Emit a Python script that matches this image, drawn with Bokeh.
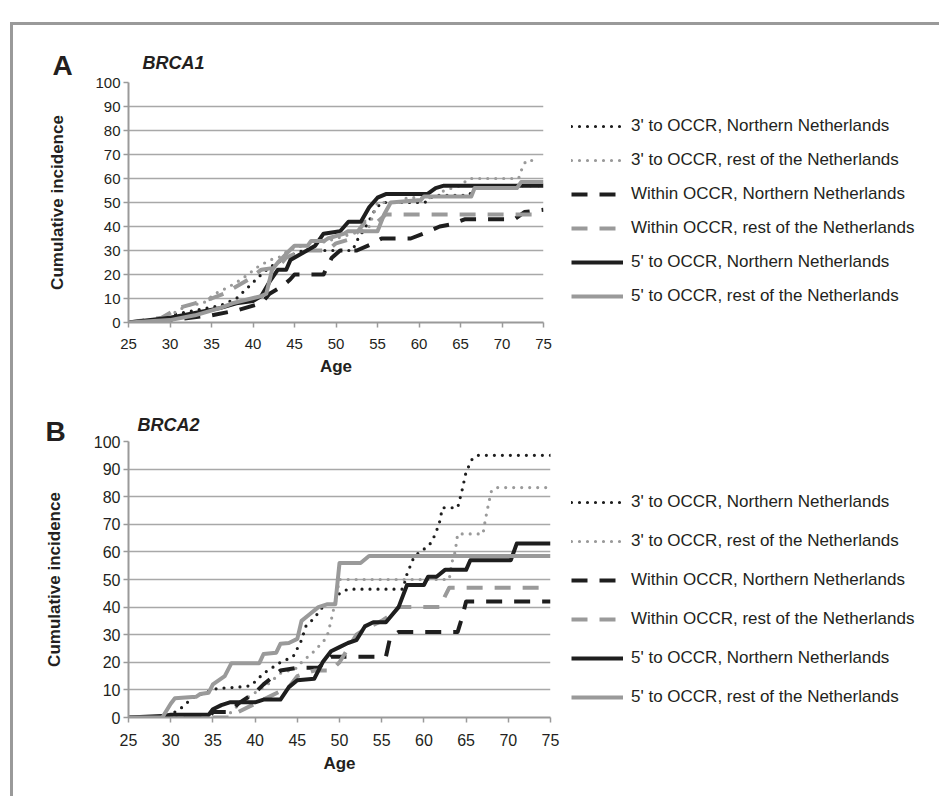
from bokeh.plotting import figure
from bokeh.models import Range1d, FixedTicker, Legend, LegendItem, Label
from bokeh.layouts import column
from bokeh.embed import file_html
from bokeh.resources import INLINE

# ---------------- data ----------------
SERIES_NAMES = [
    "3' to OCCR, Northern Netherlands",
    "3' to OCCR, rest of the Netherlands",
    "Within OCCR, Northern Netherlands",
    "Within OCCR, rest of the Netherlands",
    "5' to OCCR, Northern Netherlands",
    "5' to OCCR, rest of the Netherlands",
]
X_TICKS = [25, 30, 35, 40, 45, 50, 55, 60, 65, 70, 75]
Y_TICKS = [0, 10, 20, 30, 40, 50, 60, 70, 80, 90, 100]

# Panel A: BRCA1
A_3N_age = [25, 28, 30, 33, 36, 38, 39.5, 41, 42, 44, 46, 52, 52.5, 53.6, 54.7, 55.5, 60.7, 61.8, 66, 67, 75]
A_3N_val = [0, 1, 3, 5, 7, 10, 15, 20, 23, 27, 30, 30, 34, 40, 47, 50, 50, 53, 53, 57, 57]
A_3R_age = [25, 28, 30, 32, 34, 35.4, 36.6, 37.4, 38.6, 39.4, 40.5, 42, 43.4, 44.2, 46, 48, 50, 53, 54, 55, 58, 58.5, 62, 63, 65, 66, 72, 72.4, 72.9, 74]
A_3R_val = [0, 1, 3, 7, 8, 12, 14, 15.5, 18, 20, 23, 26, 27.5, 30, 32, 33, 35, 38, 40, 50, 50, 52, 52, 55, 57, 60, 60, 64, 67.5, 67.5]
A_WN_age = [25, 30, 35, 38, 41, 42, 43.5, 44.5, 45, 48.5, 49.5, 50.5, 52.5, 54.5, 55.5, 59, 60.5, 62.5, 64, 65.5, 71.5, 72.7, 75]
A_WN_val = [0, 1, 3, 5, 8, 12, 15, 18, 20, 20, 27, 30, 30, 33, 35, 35, 37, 40, 41, 43, 43, 46, 47]
A_WR_age = [25, 29, 31, 33, 35, 36.5, 38, 39.5, 41, 43, 44, 46, 49, 50, 52, 53.5, 55, 56, 75]
A_WR_val = [0, 2, 6, 8, 10, 12, 15, 18, 22, 23, 27, 30, 30, 33, 35, 42, 42, 45, 45]
A_5N_age = [25, 30, 33, 36, 38, 40, 41, 42, 43, 44, 44.5, 45.5, 46.5, 47.5, 48.5, 50.5, 51.5, 53, 54, 55, 56, 61, 62, 63, 75]
A_5N_val = [0, 2, 4, 6, 8, 9, 11, 17, 22, 22, 26, 28, 30, 32, 37, 38, 42, 42, 48, 52, 53.5, 53.5, 56, 57, 57]
A_5R_age = [25, 30, 33, 36, 37.5, 41, 41.6, 42.3, 43, 44.4, 45, 46.6, 47, 48.6, 49, 51, 51.4, 55, 55.8, 56.6, 60.2, 60.6, 66.3, 66.7, 71.8, 72.3, 75]
A_5R_val = [0, 1, 3, 6, 8, 11, 12, 22, 25, 30, 32, 32, 34, 34, 35, 37, 38, 38, 45, 50, 51, 52.5, 52.5, 56, 56, 58.5, 58.5]

# Panel B: BRCA2
B_3N_age = [25, 29.5, 30, 31.5, 32.5, 34, 35.5, 38, 39.5, 40, 41, 42, 43, 44.5, 45, 45.5, 46, 47, 48, 49.5, 50, 51, 57.5, 58, 58.8, 59.5, 60.5, 61, 61.8, 62.2, 64, 64.5, 65, 65.7, 66.3, 75]
B_3N_val = [0, 0, 1, 4, 7, 9, 10.5, 11, 11.5, 13, 16, 18, 20, 22, 25, 28, 33, 36, 40, 42, 45, 46.5, 46.5, 52, 58, 60, 62, 64, 70, 76, 76, 82, 89, 93.5, 95, 95]
B_3R_age = [25, 36.5, 37.5, 38.5, 40, 41.5, 43, 45, 45.5, 47, 48.5, 49, 49.5, 50, 63, 63.3, 63.7, 64, 67, 67.3, 67.7, 68, 68.5, 75]
B_3R_val = [0, 0, 3, 6, 9, 12, 16, 18, 20, 24, 29, 35, 42, 50, 50, 56, 60, 66.5, 66.5, 72, 78, 82, 83.3, 83.3]
B_WN_age = [25, 34.5, 35, 37, 38, 40, 41, 43, 45, 47.5, 49, 55.5, 56, 57, 64, 64.5, 65, 75]
B_WN_val = [0, 0, 2, 2, 5, 9, 12, 17, 18, 18, 22, 22, 29, 31, 31, 36, 42, 42]
B_WR_age = [25, 37, 38, 40, 42, 44, 45, 47, 49, 50, 51, 52, 53, 55, 56, 57, 62, 62.5, 63, 75]
B_WR_val = [0, 0, 2, 5, 8, 11, 15, 17, 17, 20, 25, 30, 32, 35, 37, 40, 40, 44, 47, 47]
B_5N_age = [25, 29, 30, 34.5, 35, 36, 37, 40, 41, 43, 44, 45, 47, 48, 49, 50, 51, 52, 53, 54, 55.5, 57, 58, 60, 60.5, 61.5, 62.5, 65, 65.5, 70.3, 71, 75]
B_5N_val = [0, 0.5, 1, 1, 3, 4.5, 5.5, 5.5, 6.5, 6.5, 11, 13.5, 14, 20, 24, 25.5, 27, 28, 33, 34.5, 34.5, 40, 48, 48, 51, 51, 53.5, 53.5, 57, 57, 63, 63]
B_5R_age = [25, 29, 30, 30.5, 33, 33.5, 34.5, 35, 36.4, 37.2, 40.5, 41, 42.5, 43, 44, 45, 45.5, 46.5, 47.5, 48.5, 49.5, 50, 52.5, 53.5, 75]
B_5R_val = [0, 0, 5, 7, 7.5, 8.5, 9, 12, 15, 19.7, 19.7, 23, 23.5, 26.7, 27, 28.5, 35, 37.5, 40, 41, 41, 56, 56, 58.5, 58.5]

# ---------------- styles ----------------
BLACK = "#1e1e1e"
GREY = "#9a9a9a"
TXT = "#231f20"
FONT = "Liberation Sans"
STYLES = [
    dict(line_color=BLACK, line_width=3.2, line_dash="0 8", line_cap="round"),
    dict(line_color=GREY, line_width=3.2, line_dash="0 8", line_cap="round"),
    dict(line_color=BLACK, line_width=4, line_dash="16 12", line_cap="butt"),
    dict(line_color=GREY, line_width=4, line_dash="16 12", line_cap="butt"),
    dict(line_color=BLACK, line_width=4, line_dash="solid", line_cap="butt"),
    dict(line_color=GREY, line_width=4, line_dash="solid", line_cap="butt"),
]


def make_panel(series, letter, gene, b_left, b_top, b_bottom, frame_w, frame_h,
               leg_loc, leg_spacing, tick_size, title_standoff,
               letter_off, gene_off):
    p = figure(frame_width=frame_w, frame_height=frame_h, output_backend="svg",
               toolbar_location=None, x_range=Range1d(25, 75),
               y_range=Range1d(0, 100), min_border_left=b_left,
               min_border_top=b_top, min_border_bottom=b_bottom,
               min_border_right=0)
    p.outline_line_color = None
    p.background_fill_color = "white"
    p.border_fill_color = "white"

    p.xaxis.ticker = FixedTicker(ticks=X_TICKS)
    p.yaxis.ticker = FixedTicker(ticks=Y_TICKS)
    for ax in (p.xaxis, p.yaxis):
        ax.axis_line_color = GREY
        ax.axis_line_width = 2
        ax.major_tick_line_color = GREY
        ax.major_tick_line_width = 1.5
        ax.major_tick_out = 5
        ax.major_tick_in = 0
        ax.minor_tick_line_color = None
        ax.major_label_text_font = FONT
        ax.major_label_text_font_size = tick_size
        ax.major_label_text_color = TXT
        ax.axis_label_text_font = FONT
        ax.axis_label_text_font_size = "17px"
        ax.axis_label_text_font_style = "bold"
        ax.axis_label_text_color = TXT
    p.xaxis.axis_label = "Age"
    p.yaxis.axis_label = "Cumulative incidence"
    p.xaxis.major_label_standoff = 11
    p.xaxis.axis_label_standoff = 5
    p.yaxis.major_label_standoff = 3
    p.yaxis.axis_label_standoff = title_standoff

    p.xgrid.grid_line_color = None
    p.ygrid.grid_line_color = "#a8a8a8"
    p.ygrid.grid_line_width = 1.5

    items = []
    for (ages, vals), name, st in zip(series, SERIES_NAMES, STYLES):
        r = p.line(ages, vals, line_join="round", **st)
        items.append(LegendItem(label=name, renderers=[r]))

    leg = Legend(items=items, location=leg_loc, spacing=leg_spacing,
                 padding=0, margin=0, glyph_width=52, glyph_height=20,
                 label_height=20, label_width=310, label_standoff=8,
                 label_text_font=FONT, label_text_font_size="17px",
                 label_text_color=TXT, border_line_color=None,
                 background_fill_alpha=0)
    p.add_layout(leg, "right")

    # panel letter and gene name, in the panel above the frame (not clipped)
    sx = 50.0 / frame_w
    sy = 100.0 / frame_h
    p.add_layout(Label(x=25 + letter_off[0] * sx, y=100 + letter_off[1] * sy,
                       text=letter, text_font=FONT, text_font_style="bold",
                       text_font_size="28px", text_color=TXT,
                       text_baseline="alphabetic"), "above")
    p.add_layout(Label(x=25 + gene_off[0] * sx, y=100 + gene_off[1] * sy,
                       text=gene, text_font=FONT, text_font_style="bold italic",
                       text_font_size="18px", text_color=TXT,
                       text_baseline="alphabetic"), "above")
    return p


series_A = [(A_3N_age, A_3N_val), (A_3R_age, A_3R_val), (A_WN_age, A_WN_val),
            (A_WR_age, A_WR_val), (A_5N_age, A_5N_val), (A_5R_age, A_5R_val)]
series_B = [(B_3N_age, B_3N_val), (B_3R_age, B_3R_val), (B_WN_age, B_WN_val),
            (B_WR_age, B_WR_val), (B_5N_age, B_5N_val), (B_5R_age, B_5R_val)]

pA = make_panel(series_A, "A", "BRCA1", b_left=111, b_top=57, b_bottom=68,
                frame_w=415, frame_h=240, leg_loc=(28, 16), leg_spacing=14,
                tick_size="15px", title_standoff=25,
                letter_off=(-76, 17), gene_off=(14, 20))
pB = make_panel(series_B, "B", "BRCA2", b_left=115, b_top=44, b_bottom=79,
                frame_w=422, frame_h=276, leg_loc=(21, 10), leg_spacing=19,
                tick_size="16px", title_standoff=27,
                letter_off=(-83, 10), gene_off=(9, 17))

layout = column(pA, pB, spacing=0,
                styles={"margin-top": "22px", "margin-left": "10px",
                        "border-top": "3px solid #9a9a9a",
                        "border-left": "3px solid #9a9a9a"})

open("out.html", "w").write(file_html(layout, INLINE))
